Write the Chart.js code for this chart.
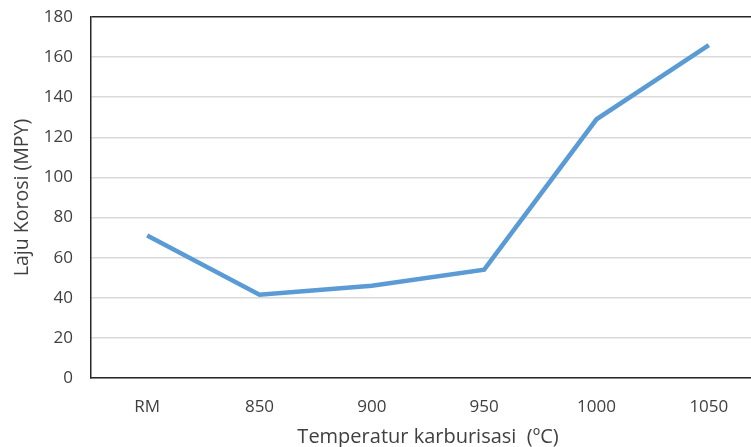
<!DOCTYPE html>
<html>
<head>
<meta charset="utf-8">
<script src="https://cdn.jsdelivr.net/npm/chart.js@4"></script>
<style>
html,body{margin:0;padding:0;background:#fff;overflow:hidden;width:751px;height:447px;}
#wrap{position:absolute;left:0;top:0;width:775px;height:447px;}
</style>
</head>
<body>
<div id="wrap"><canvas id="c"></canvas></div>
<script>
const categories = ['RM', '850', '900', '950', '1000', '1050'];
const lajuKorosi = [71, 41.5, 46, 54, 129, 166];
const yTicks = [0, 20, 40, 60, 80, 100, 120, 140, 160, 180];
const yTitle = 'Laju Korosi (MPY)';
const xTitle = 'Temperatur karburisasi  (ºC)';

const font = "Open Sans, 'Liberation Sans', sans-serif";

new Chart(document.getElementById('c'), {
  type: 'line',
  data: {
    labels: categories,
    datasets: [{
      data: lajuKorosi,
      borderColor: '#5b9bd5',
      borderWidth: 4.5,
      pointRadius: 0,
      tension: 0,
      fill: false
    }]
  },
  options: {
    responsive: true,
    maintainAspectRatio: false,
    animation: false,
    devicePixelRatio: 1,
    layout: { padding: { left: 0, top: 17, right: 10, bottom: 0 } },
    plugins: { legend: { display: false }, tooltip: { enabled: false } },
    scales: {
      x: {
        offset: true,
        grid: { display: false, drawTicks: false },
        border: { display: true, color: '#262626', width: 1.5 },
        ticks: { color: '#404040', font: { family: font, size: 17 }, padding: 19, maxRotation: 0 },
        title: { display: true, text: xTitle, color: '#404040', font: { family: font, size: 20, lineHeight: 1.0 }, padding: { top: 4, bottom: 0 } },
        afterFit: s => { s.height = 69; s.paddingLeft = 0; s.paddingRight = 0; }
      },
      y: {
        min: yTicks[0],
        max: yTicks[yTicks.length - 1],
        afterBuildTicks: s => { s.ticks = yTicks.map(v => ({ value: v })); },
        grid: {
          drawTicks: false,
          color: ctx => ctx.tick && ctx.tick.value === 180 ? '#262626' : '#d9d9d9',
          lineWidth: 1.5
        },
        border: { display: true, color: '#262626', width: 1.5 },
        ticks: { color: '#404040', font: { family: font, size: 17 }, padding: 18 },
        title: { display: true, text: yTitle, color: '#404040', font: { family: font, size: 19.5 }, padding: { top: 11, bottom: 0 } },
        afterFit: s => { s.width = 91; s.paddingTop = 0; s.paddingBottom = 0; }
      }
    }
  }
});
</script>
</body>
</html>
